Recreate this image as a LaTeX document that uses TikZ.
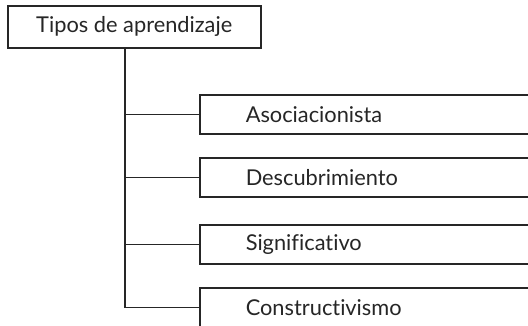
\documentclass[tikz,border=0pt]{standalone}
\usepackage{fontspec}
\setmainfont[Ligatures=CommonOff]{Lato}
\usepackage{tikz}
\tikzstyle{box} = [draw=black!85, line width=1.5pt, fill=white, rectangle]
\tikzstyle{leaf} = [box, anchor=north west, text width=300pt, inner xsep=46pt, minimum height=39pt, align=left]
\tikzstyle{link} = [draw=black!85, line width=1.5pt]

\begin{document}
\begin{tikzpicture}[x=1pt, y=-1pt, every node/.style={font=\fontsize{21.8}{24}\selectfont, text=black!85}]
        \useasboundingbox (0,0) rectangle (528,325);
        \clip (0,0) rectangle (528,325);
        % Node positions
        \node[box, anchor=north west, minimum width=253pt, minimum height=42pt] (top) at (7,5) {Tipos de aprendizaje};
        \node[leaf] (aso) at (199,94) {Asociacionista};
        \node[leaf] (des) at (199,157) {Descubrimiento};
        \node[leaf] (sig) at (199,224) {Significativo};
        \node[leaf] (con) at (199,287) {Constructivismo};
        \coordinate (trunk) at (125,0);

        \draw[link] (top.south -| trunk) -- (trunk |- con.west) -- (con.west);
        \draw[link] (trunk |- aso.west) -- (aso.west);
        \draw[link] (trunk |- des.west) -- (des.west);
        \draw[link] (trunk |- sig.west) -- (sig.west);
      \end{tikzpicture}
\end{document}
